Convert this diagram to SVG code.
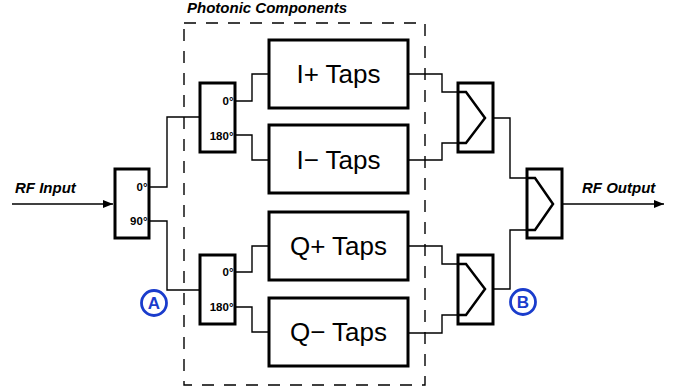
<svg xmlns="http://www.w3.org/2000/svg" width="677" height="391" viewBox="0 0 677 391">
<defs>
<marker id="arr" markerWidth="10" markerHeight="8" refX="10" refY="4" orient="auto" markerUnits="userSpaceOnUse">
<path d="M0,0 L10,4 L0,8 Z" fill="#000"/>
</marker>
<style>
.box{fill:#fff;stroke:#000;stroke-width:3}
.chev{fill:none;stroke:#000;stroke-width:2.5;stroke-linejoin:miter}
.wire{fill:none;stroke:#000;stroke-width:1.4}
.dash{fill:none;stroke:#000;stroke-width:1.4;stroke-dasharray:12 10}
.taps{font-family:"Liberation Sans",Arial,sans-serif;font-size:26px;text-anchor:middle;fill:#000}
.deg{font-family:"Liberation Sans",Arial,sans-serif;font-size:11.5px;font-weight:bold;text-anchor:end;fill:#000}
.lbl{font-family:"Liberation Sans",Arial,sans-serif;font-size:15px;font-weight:bold;font-style:italic;fill:#000}
.mk{fill:none;stroke:#1a3ccc;stroke-width:2.8}
.mkt{font-family:"Liberation Sans",Arial,sans-serif;font-size:17px;font-weight:bold;text-anchor:middle;fill:#1a3ccc}
</style>
</defs>
<rect width="677" height="391" fill="#fff"/>

<g id="photonic-boundary">
<rect class="dash" x="184" y="23" width="241" height="362"/>
<text class="lbl" x="187" y="13">Photonic Components</text>
</g>

<g id="connectors">
<path class="wire" d="M12,204 H113" marker-end="url(#arr)"/>
<path class="wire" d="M149,187 H167 V117 H200"/>
<path class="wire" d="M149,221 H167 V290 H200"/>
<path class="wire" d="M235,101 H252 V74 H269"/>
<path class="wire" d="M235,135 H252 V160 H269"/>
<path class="wire" d="M235,272 H252 V246 H269"/>
<path class="wire" d="M235,307 H252 V332 H269"/>
<path class="wire" d="M408,74 H442 V92 H458"/>
<path class="wire" d="M408,160 H442 V143 H458"/>
<path class="wire" d="M408,246 H442 V264 H458"/>
<path class="wire" d="M408,333 H442 V315 H458"/>
<path class="wire" d="M485,118 H510 V178 H527"/>
<path class="wire" d="M485,289 H510 V230 H527"/>
<path class="wire" d="M553,204 H664" marker-end="url(#arr)"/>
</g>

<g id="rf-input">
<text class="lbl" x="15" y="193">RF Input</text>
</g>

<g id="hybrid-90">
<rect class="box" x="115" y="169" width="34" height="69"/>
<text class="deg" x="147.5" y="190.5">0°</text>
<text class="deg" x="147.5" y="225">90°</text>
</g>

<g id="hybrid-180-i">
<rect class="box" x="200" y="83" width="35" height="69"/>
<text class="deg" x="233.5" y="104.5">0°</text>
<text class="deg" x="233.5" y="139.5">180°</text>
</g>

<g id="hybrid-180-q">
<rect class="box" x="200" y="255" width="35" height="69"/>
<text class="deg" x="233.5" y="276">0°</text>
<text class="deg" x="233.5" y="311">180°</text>
</g>

<g id="i-plus-taps">
<rect class="box" x="269" y="40" width="139" height="68"/>
<text class="taps" x="338.5" y="82.5">I+ Taps</text>
</g>

<g id="i-minus-taps">
<rect class="box" x="269" y="125" width="139" height="68"/>
<text class="taps" x="338.5" y="168.5">I− Taps</text>
</g>

<g id="q-plus-taps">
<rect class="box" x="269" y="212" width="139" height="68"/>
<text class="taps" x="338.5" y="254.5">Q+ Taps</text>
</g>

<g id="q-minus-taps">
<rect class="box" x="269" y="298" width="139" height="68"/>
<text class="taps" x="338.5" y="340.5">Q− Taps</text>
</g>

<g id="combiner-i">
<rect class="box" x="458" y="83" width="35" height="69"/>
<path class="chev" d="M458,92 H466 L485,118 L466,143 H458"/>
</g>

<g id="combiner-q">
<rect class="box" x="458" y="255" width="35" height="69"/>
<path class="chev" d="M458,264 H466 L485,289 L466,315 H458"/>
</g>

<g id="combiner-out">
<rect class="box" x="527" y="169" width="35" height="69"/>
<path class="chev" d="M527,178 H535 L553,204 L535,230 H527"/>
</g>

<g id="rf-output">
<text class="lbl" x="582" y="193">RF Output</text>
</g>

<g id="marker-a">
<circle class="mk" cx="154" cy="303" r="12.5"/>
<text class="mkt" x="154" y="309">A</text>
</g>

<g id="marker-b">
<circle class="mk" cx="523" cy="302" r="12.5"/>
<text class="mkt" x="523" y="308">B</text>
</g>
</svg>
